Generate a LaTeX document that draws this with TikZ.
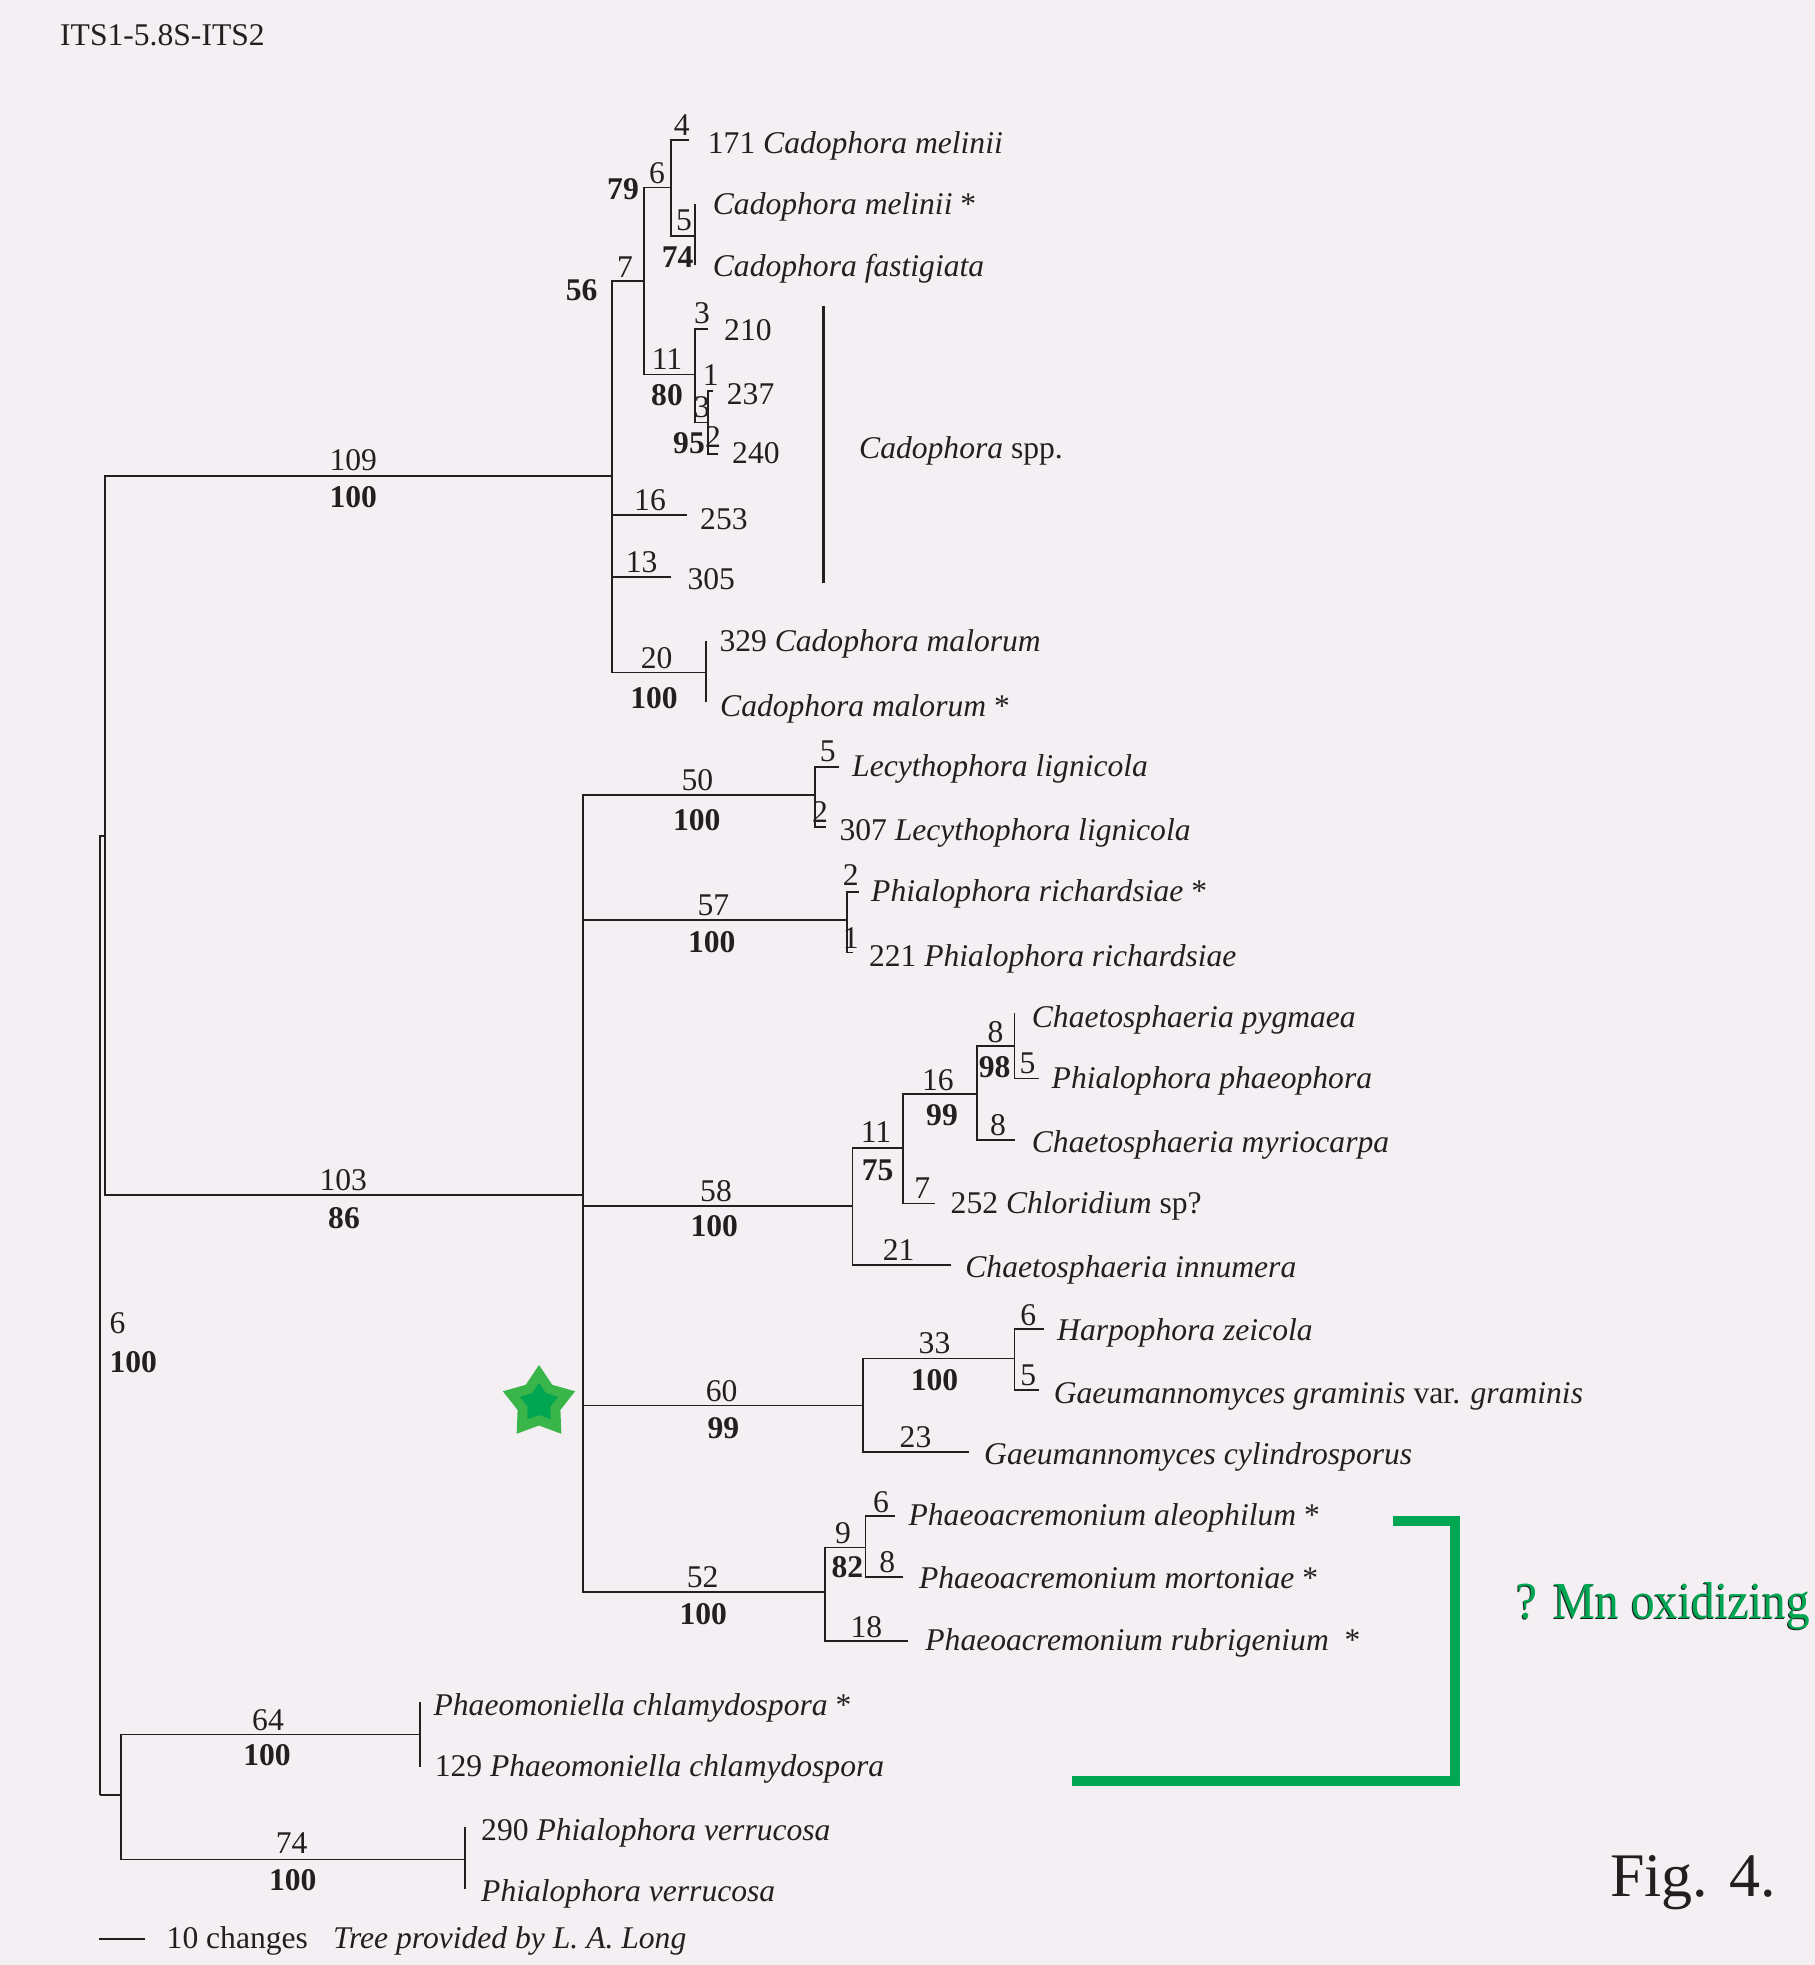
\documentclass[tikz,border=0pt]{standalone}
\usepackage{fontspec}
\setmainfont{Liberation Serif}
\definecolor{bg}{RGB}{243,239,243}
\definecolor{ink}{RGB}{35,31,32}
\definecolor{mngreen}{RGB}{0,166,81}
\definecolor{starlight}{RGB}{57,181,74}
\begin{document}
\begin{tikzpicture}[x=1pt,y=-1pt,
  br/.style={draw=ink,line width=1.6pt},
  mainbr/.style={draw=ink,line width=2pt},
  lab/.style={inner sep=0pt,text=ink,font=\fontsize{31.6pt}{38pt}\selectfont},
  blab/.style={inner sep=0pt,text=ink,font=\fontsize{31.6pt}{38pt}\selectfont\bfseries},
  tiplab/.style={anchor=base west,inner sep=0pt,text=ink,font=\fontsize{31.6pt}{38pt}\selectfont},
  mnlab/.style={anchor=base west,inner sep=0pt,font=\fontsize{52pt}{60pt}\selectfont}]
\fill[bg] (0,0) rectangle (1815,1965);
\useasboundingbox (0,0) rectangle (1815,1965);

% ---------- internal nodes and tips ----------
\coordinate (R) at (100,1795);
\coordinate (X) at (105,835.7);
\coordinate (Y) at (121.1,1795);
\coordinate (Cad) at (612,476);
\coordinate (N2) at (582.7,1195.4);
\coordinate (C56) at (644,281);
\coordinate (C79) at (670.7,187.3);
\coordinate (C74) at (694.7,235.7);
\coordinate (C80) at (694.7,374.3);
\coordinate (C95) at (708,422.3);
\coordinate (Mal) at (706,672.3);
\coordinate (t171) at (689,140);
\coordinate (tmel) at (694.7,204);
\coordinate (tfas) at (694.7,265);
\coordinate (t210) at (708.3,329);
\coordinate (t237) at (713,390.7);
\coordinate (t240) at (718,454);
\coordinate (t253) at (687.3,515);
\coordinate (t305) at (671,576.7);
\coordinate (tmalA) at (706,640.7);
\coordinate (tmalB) at (706,701.7);
\coordinate (Lec) at (815.2,795.2);
\coordinate (tlecA) at (839.3,766.7);
\coordinate (tlecB) at (826,826.7);
\coordinate (Ric) at (847,920.2);
\coordinate (tricA) at (858.5,891.7);
\coordinate (tricB) at (852.7,952.3);
\coordinate (Cha) at (852.4,1206);
\coordinate (C75) at (902.9,1147.7);
\coordinate (C99) at (977,1094);
\coordinate (C98) at (1014.4,1046);
\coordinate (tpyg) at (1014.4,1013.3);
\coordinate (tphp) at (1038.8,1078.3);
\coordinate (tmyr) at (1014.8,1140);
\coordinate (t252) at (934.9,1203.3);
\coordinate (tinn) at (950.5,1265);
\coordinate (Gae) at (862.9,1405.5);
\coordinate (C100) at (1014.4,1358.3);
\coordinate (tzei) at (1044.3,1329);
\coordinate (tgra) at (1038.8,1390);
\coordinate (tcyl) at (969.4,1451.7);
\coordinate (Pha) at (825,1592.2);
\coordinate (C82) at (865.4,1547.3);
\coordinate (tale) at (894.5,1516);
\coordinate (tmor) at (903.3,1576.7);
\coordinate (trub) at (907.5,1640.7);
\coordinate (Pch) at (420.2,1734.3);
\coordinate (tpchA) at (420.2,1701.7);
\coordinate (tpchB) at (420.2,1766.7);
\coordinate (Pve) at (465,1859.3);
\coordinate (tpveA) at (465,1827.3);
\coordinate (tpveB) at (465,1889.3);

% ---------- branches ----------
\draw[mainbr] (R) |- (X);
\draw[mainbr] (R) |- (Y);
\draw[mainbr] (X) |- (Cad);
\draw[mainbr] (X) |- (N2);
\foreach \p/\c in {Cad/C56,Cad/t253,Cad/t305,Cad/Mal,
  C56/C79,C56/C80,C79/t171,C79/C74,C74/tmel,C74/tfas,
  C80/t210,C80/C95,C95/t237,C95/t240,Mal/tmalA,Mal/tmalB,
  N2/Lec,N2/Ric,N2/Cha,N2/Gae,N2/Pha,
  Lec/tlecA,Lec/tlecB,Ric/tricA,Ric/tricB,
  Cha/C75,Cha/tinn,C75/C99,C75/t252,C99/C98,C99/tmyr,C98/tpyg,C98/tphp,
  Gae/C100,Gae/tcyl,C100/tzei,C100/tgra,
  Pha/C82,Pha/trub,C82/tale,C82/tmor,
  Y/Pch,Y/Pve,Pch/tpchA,Pch/tpchB,Pve/tpveA,Pve/tpveB}
  {\draw[br] (\p) |- (\c);}

% ---------- branch labels ----------
\node[lab] (b109) at (353.3,460) {109};
\node[blab] (s109) at (353.3,497.3) {100};
\node[lab] (b103) at (343.3,1180) {103};
\node[blab] (s103) at (344,1218.3) {86};
\node[lab,anchor=west] (b6r) at (109.3,1322.7) {6};
\node[blab,anchor=west] (s6r) at (109.3,1361.7) {100};
\node[blab] (s56) at (581.7,290) {56};
\node[lab] (b7) at (625,266.7) {7};
\node[blab] (s79) at (623,189) {79};
\node[lab] (b6) at (657,173) {6};
\node[lab] (b4) at (681.7,125) {4};
\node[lab] (b5) at (684,220) {5};
\node[blab] (s74) at (677.7,256.7) {74};
\node[lab] (b3a) at (702,313) {3};
\node[lab] (b11) at (667,359) {11};
\node[blab] (s80) at (667,395) {80};
\node[lab] (b1) at (710.7,375) {1};
\node[lab] (b3b) at (702,406.7) {3};
\node[blab] (s95) at (689,443) {95};
\node[lab] (b2) at (713,437) {2};
\node[lab] (b16) at (650,500) {16};
\node[lab] (b13) at (641.7,561.7) {13};
\node[lab] (b20) at (656.7,658.3) {20};
\node[blab] (s20) at (654,698.3) {100};
\node[lab] (b50) at (697.3,780.5) {50};
\node[blab] (s50) at (696.7,819.9) {100};
\node[lab] (b5l) at (827.8,751.7) {5};
\node[lab] (b2l) at (820,811.7) {2};
\node[lab] (b57) at (713.3,905.5) {57};
\node[blab] (s57) at (711.7,942) {100};
\node[lab] (b2r) at (850.8,875) {2};
\node[lab] (b1r) at (850.8,938.3) {1};
\node[lab] (b58) at (716,1191.3) {58};
\node[blab] (s58) at (714.3,1226.5) {100};
\node[lab] (b11c) at (876,1131.7) {11};
\node[blab] (s75) at (877.6,1170.7) {75};
\node[lab] (b16c) at (937.8,1080) {16};
\node[blab] (s99c) at (942,1115) {99};
\node[lab] (b8c) at (995.5,1031.7) {8};
\node[blab] (s98) at (994.6,1066.7) {98};
\node[lab] (b5c) at (1027.5,1063.3) {5};
\node[lab] (b8m) at (998,1125) {8};
\node[lab] (b7c) at (922.3,1188.3) {7};
\node[lab] (b21) at (898.7,1250) {21};
\node[lab] (b60) at (721.7,1390.9) {60};
\node[blab] (s60) at (723.3,1427.8) {99};
\node[lab] (b33) at (934.5,1343.3) {33};
\node[blab] (s33) at (934.5,1380) {100};
\node[lab] (b6g) at (1028.3,1315) {6};
\node[lab] (b5g) at (1028.3,1375) {5};
\node[lab] (b23) at (915.5,1436.7) {23};
\node[lab] (b52) at (702.7,1576.9) {52};
\node[blab] (s52) at (703.3,1613.9) {100};
\node[lab] (b9) at (843.1,1533.3) {9};
\node[blab] (s82) at (847.3,1566.7) {82};
\node[lab] (b6p) at (881,1501.7) {6};
\node[lab] (b8p) at (887.3,1561.7) {8};
\node[lab] (b18) at (866.3,1626.7) {18};
\node[lab] (b64) at (268,1720) {64};
\node[blab] (s64) at (267,1755) {100};
\node[lab] (b74) at (291.6,1843.3) {74};
\node[blab] (s74b) at (292.8,1880) {100};

% ---------- tip labels ----------
\node[tiplab] (L171) at (707.7,153) {171 \textit{Cadophora melinii}};
\node[tiplab] (Lmel) at (712.7,214) {\textit{Cadophora melinii} *};
\node[tiplab] (Lfas) at (712.7,276.7) {\textit{Cadophora fastigiata}};
\node[tiplab] (L210) at (724,340) {210};
\node[tiplab] (L237) at (726.7,404) {237};
\node[tiplab] (L240) at (732,463.3) {240};
\node[tiplab] (L253) at (700,529.3) {253};
\node[tiplab] (L305) at (687.3,589.3) {305};
\node[tiplab] (L329) at (719.3,651.7) {329 \textit{Cadophora malorum}};
\node[tiplab] (Lmal) at (720,716) {\textit{Cadophora malorum} *};
\node[tiplab] (Llec) at (852,776.7) {\textit{Lecythophora lignicola}};
\node[tiplab] (L307) at (839.3,840.7) {307 \textit{Lecythophora lignicola}};
\node[tiplab] (Lric) at (871,901.7) {\textit{Phialophora richardsiae} *};
\node[tiplab] (L221) at (868.8,966) {221 \textit{Phialophora richardsiae}};
\node[tiplab] (Lpyg) at (1031.7,1027.7) {\textit{Chaetosphaeria pygmaea}};
\node[tiplab] (Lphp) at (1051.5,1088.3) {\textit{Phialophora phaeophora}};
\node[tiplab] (Lmyr) at (1031.7,1152.7) {\textit{Chaetosphaeria myriocarpa}};
\node[tiplab] (L252) at (950.5,1213.3) {252 \textit{Chloridium} sp?};
\node[tiplab] (Linn) at (965.2,1277.7) {\textit{Chaetosphaeria innumera}};
\node[tiplab] (Lzei) at (1057,1340) {\textit{Harpophora zeicola}};
\node[tiplab] (Lgra) at (1053.6,1403.3) {\textit{Gaeumannomyces graminis} var. \textit{graminis}};
\node[tiplab] (Lcyl) at (984,1464.3) {\textit{Gaeumannomyces cylindrosporus}};
\node[tiplab] (Lale) at (908.4,1525) {\textit{Phaeoacremonium aleophilum} *};
\node[tiplab] (Lmor) at (918.9,1588.3) {\textit{Phaeoacremonium mortoniae} *};
\node[tiplab] (Lrub) at (925.2,1650.7) {\textit{Phaeoacremonium rubrigenium}\ \ *};
\node[tiplab] (LpchA) at (433.4,1715) {\textit{Phaeomoniella chlamydospora} *};
\node[tiplab] (LpchB) at (434.6,1776.7) {129 \textit{Phaeomoniella chlamydospora}};
\node[tiplab] (LpveA) at (481,1840) {290 \textit{Phialophora verrucosa}};
\node[tiplab] (LpveB) at (481,1901) {\textit{Phialophora verrucosa}};

% ---------- Cadophora spp. bar ----------
\coordinate (sppT) at (823.7,305.7);
\coordinate (sppB) at (823.7,583.3);
\draw[draw=ink,line width=3pt] (sppT) -- (sppB);
\node[tiplab] (Lspp) at (859,458.3) {\textit{Cadophora} spp.};

% ---------- title, scale, credits ----------
\node[tiplab] (title) at (60,45.7) {ITS1-5.8S-ITS2};
\coordinate (sb1) at (99.3,1939);
\coordinate (sb2) at (145.2,1939);
\draw[br] (sb1) -- (sb2);
\node[tiplab] (scl) at (166.5,1948.3) {10 changes};
\node[tiplab] (cred) at (333,1948.3) {\textit{Tree provided by L. A. Long}};

% ---------- green star ----------
\begin{scope}[shift={(539,1403)}]
  \fill[starlight] (90:38pt) -- (126:22.5pt) -- (162:38pt) -- (198:22.5pt) -- (234:38pt)
     -- (270:22.5pt) -- (306:38pt) -- (342:22.5pt) -- (18:38pt) -- (54:22.5pt) -- cycle;
  \fill[mngreen] (90:20pt) -- (126:12pt) -- (162:20pt) -- (198:12pt) -- (234:20pt)
     -- (270:12pt) -- (306:20pt) -- (342:12pt) -- (18:20pt) -- (54:12pt) -- cycle;
\end{scope}

% ---------- Mn oxidizing bracket ----------
\coordinate (g1) at (1393,1521);
\coordinate (g2) at (1454.7,1521);
\coordinate (g3) at (1454.7,1781.3);
\coordinate (g4) at (1071.7,1781.3);
\draw[mngreen,line width=10pt,line join=miter] (g1) -- (g2) -- (g3) -- (g4);
\node[mnlab,text=ink] (mnshadow) at (1515.7,1619.3) {\scalebox{0.91}[1]{? Mn oxidizing}};
\node[mnlab,text=mngreen] (mn) at (1516.7,1618.3) {\scalebox{0.91}[1]{? Mn oxidizing}};

\node[anchor=base west,inner sep=0pt,text=ink,font=\fontsize{62pt}{72pt}\selectfont] (fig) at (1610,1896.7) {Fig. 4.};
\end{tikzpicture}
\end{document}
